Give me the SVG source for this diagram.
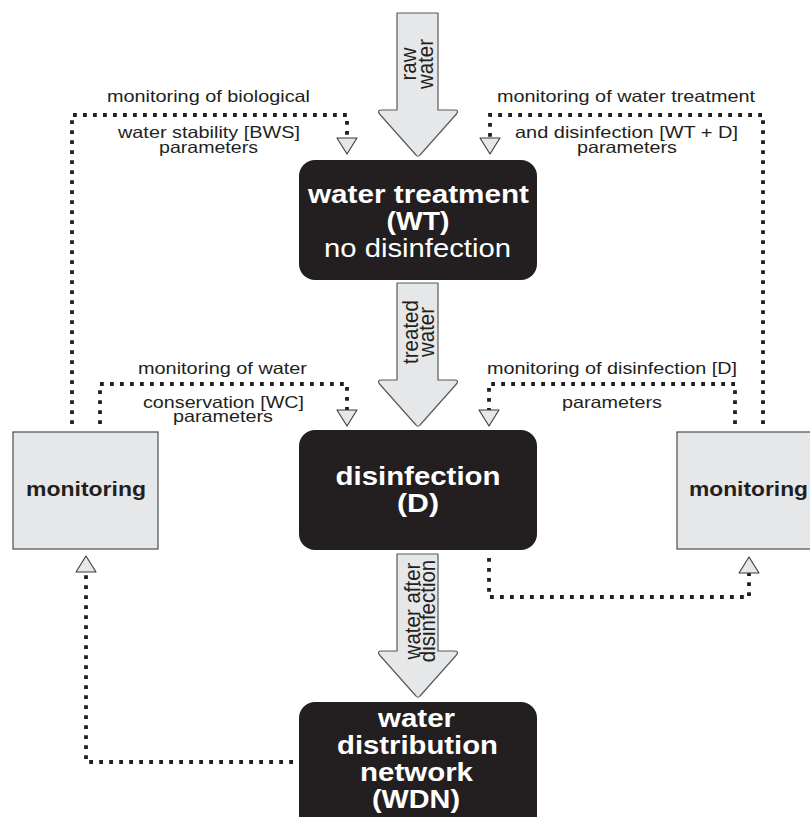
<svg xmlns="http://www.w3.org/2000/svg" width="810" height="817" viewBox="0 0 810 817">
<style>
  .box{fill:#231f20;stroke:none}
  .mon{fill:#e6e7e8;stroke:#58595b;stroke-width:1.3}
  .flow{fill:#e6e7e8;stroke:#58595b;stroke-width:1.2;stroke-linejoin:round}
  .wt{font-family:"Liberation Sans",Arial,sans-serif;fill:#ffffff;text-anchor:middle}
  .b{font-weight:bold;font-size:25px}
  .r{font-weight:normal;font-size:26.5px}
  .lbl{font-family:"Liberation Sans",Arial,sans-serif;font-size:16.5px;fill:#231f20;text-anchor:middle}
  .ml{font-family:"Liberation Sans",Arial,sans-serif;font-size:21px;font-weight:bold;fill:#231f20;text-anchor:middle}
  .rot{font-family:"Liberation Sans",Arial,sans-serif;font-size:20.5px;fill:#231f20;text-anchor:middle}
  .dot{fill:none;stroke:#231f20;stroke-width:3.8;stroke-dasharray:3.8 6.2;marker-end:url(#tri)}
</style>
<defs>
  <marker id="tri" viewBox="-1 -11 18 22" refX="0" refY="0" markerWidth="18" markerHeight="22" markerUnits="userSpaceOnUse" orient="auto">
    <path d="M0,-10 L16,0 L0,10 Z" fill="#e6e7e8" stroke="#3a3a3c" stroke-width="1.1" stroke-linejoin="round"/>
  </marker>
</defs>

<g id="connectors">
  <path class="dot" d="M72,424 V115 H347 V138"/>
  <path class="dot" d="M100,424 V384 H347 V410"/>
  <path class="dot" d="M763,424 V115 H490 V138"/>
  <path class="dot" d="M735,424 V384 H489 V410"/>
  <path class="dot" d="M489,558 V597 H749 V573"/>
  <path class="dot" d="M293,762 H86 V572"/>
</g>

<g id="flow-raw">
  <path class="flow" d="M397,13 H438 V110 H454 Q460,110 456,114.5 L420,155 Q418,157.5 416,155 L380,114.5 Q376,110 382,110 H397 Z"/>
  <text class="rot" transform="translate(418,64) scale(1.12,1) rotate(-90)"><tspan x="0" y="-2.2">raw</tspan><tspan x="0" y="13.2">water</tspan></text>
</g>
<g id="flow-treated">
  <path class="flow" d="M397,283 H438 V380 H454 Q460,380 456,384.5 L420,425 Q418,427.5 416,425 L380,384.5 Q376,380 382,380 H397 Z"/>
  <text class="rot" transform="translate(418,332) scale(1.12,1) rotate(-90)"><tspan x="0" y="0">treated</tspan><tspan x="0" y="14.3">water</tspan></text>
</g>
<g id="flow-after">
  <path class="flow" d="M397,554 H438 V651 H454 Q460,651 456,655.5 L420,696 Q418,698.5 416,696 L380,655.5 Q376,651 382,651 H397 Z"/>
  <text class="rot" transform="translate(418,611) scale(1.12,1) rotate(-90)"><tspan x="0" y="1.5">water after</tspan><tspan x="0" y="14.8">disinfection</tspan></text>
</g>

<g id="node-wt">
  <rect class="box" x="299" y="160" width="238" height="120" rx="16"/>
  <text class="wt b" x="418.5" y="203.3" textLength="221" lengthAdjust="spacingAndGlyphs">water treatment</text>
  <text class="wt b" x="418" y="230" textLength="63" lengthAdjust="spacingAndGlyphs">(WT)</text>
  <text class="wt r" x="417.5" y="257.3" textLength="187" lengthAdjust="spacingAndGlyphs">no disinfection</text>
</g>

<g id="node-d">
  <rect class="box" x="299" y="430" width="238" height="120" rx="16"/>
  <text class="wt b" x="418" y="485" textLength="165" lengthAdjust="spacingAndGlyphs">disinfection</text>
  <text class="wt b" x="418" y="512" textLength="42" lengthAdjust="spacingAndGlyphs">(D)</text>
</g>

<g id="node-wdn">
  <rect class="box" x="299" y="702" width="238" height="140" rx="16"/>
  <text class="wt b" x="416.5" y="726.5" textLength="77" lengthAdjust="spacingAndGlyphs">water</text>
  <text class="wt b" x="417.5" y="753.5" textLength="161" lengthAdjust="spacingAndGlyphs">distribution</text>
  <text class="wt b" x="416.5" y="780.5" textLength="113" lengthAdjust="spacingAndGlyphs">network</text>
  <text class="wt b" x="416" y="807.5" textLength="88" lengthAdjust="spacingAndGlyphs">(WDN)</text>
</g>

<g id="node-mon-left">
  <rect class="mon" x="13" y="432" width="145" height="117"/>
  <text class="ml" x="86" y="496" textLength="120" lengthAdjust="spacingAndGlyphs">monitoring</text>
</g>

<g id="node-mon-right">
  <rect class="mon" x="677" y="432" width="150" height="117"/>
  <text class="ml" x="748.5" y="496" textLength="119" lengthAdjust="spacingAndGlyphs">monitoring</text>
</g>

<g id="labels">
  <text class="lbl" x="208.5" y="102" textLength="203" lengthAdjust="spacingAndGlyphs">monitoring of biological</text>
  <text class="lbl" x="209" y="138" textLength="182" lengthAdjust="spacingAndGlyphs">water stability [BWS]</text>
  <text class="lbl" x="208.5" y="152.7" textLength="99" lengthAdjust="spacingAndGlyphs">parameters</text>

  <text class="lbl" x="626" y="102" textLength="258" lengthAdjust="spacingAndGlyphs">monitoring of water treatment</text>
  <text class="lbl" x="626.5" y="138" textLength="223" lengthAdjust="spacingAndGlyphs">and disinfection [WT + D]</text>
  <text class="lbl" x="627" y="152.7" textLength="100" lengthAdjust="spacingAndGlyphs">parameters</text>

  <text class="lbl" x="222.5" y="374" textLength="169" lengthAdjust="spacingAndGlyphs">monitoring of water</text>
  <text class="lbl" x="223.5" y="407.5" textLength="161" lengthAdjust="spacingAndGlyphs">conservation [WC]</text>
  <text class="lbl" x="223" y="422" textLength="100" lengthAdjust="spacingAndGlyphs">parameters</text>

  <text class="lbl" x="612" y="374" textLength="250" lengthAdjust="spacingAndGlyphs">monitoring of disinfection [D]</text>
  <text class="lbl" x="612" y="407.5" textLength="100" lengthAdjust="spacingAndGlyphs">parameters</text>
</g>
</svg>
